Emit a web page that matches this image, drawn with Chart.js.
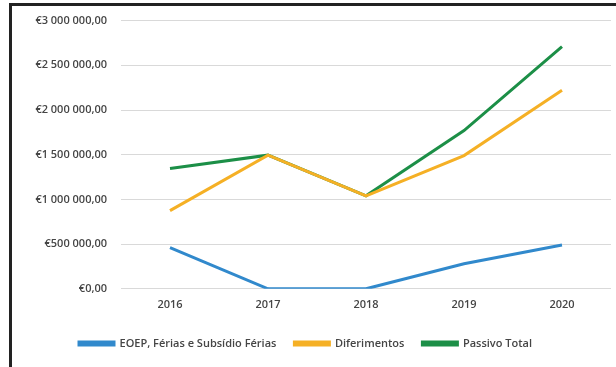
<!DOCTYPE html>
<html>
<head>
<meta charset="utf-8">
<script src="https://cdn.jsdelivr.net/npm/chart.js@4/dist/chart.umd.min.js"></script>
<style>
  html, body { margin: 0; padding: 0; background: #ffffff; }
  body { width: 616px; height: 367px; position: relative; overflow: hidden; }
  #frame {
    position: absolute; left: 9px; top: 3px; width: 620px; height: 380px;
    border-top: 3px solid #222222; border-left: 3px solid #222222;
    box-sizing: border-box; pointer-events: none;
  }
  #wrap { position: absolute; left: 0; top: 0; width: 616px; height: 367px; }
</style>
</head>
<body>
<div id="wrap"><canvas id="chart" width="616" height="367"></canvas></div>
<div id="frame"></div>
<script>
// Liabilities by year (EUR)
const years = ['2016', '2017', '2018', '2019', '2020'];
const eoepFerias = [460000, 0, 0, 280000, 490000];
const diferimentos = [875000, 1495000, 1040000, 1490000, 2220000];
const passivoTotal = [1345000, 1495000, 1040000, 1770000, 2710000];
const yTicks = [0, 500000, 1000000, 1500000, 2000000, 2500000, 3000000];

const seriesNames = ['EOEP, Férias e Subsídio Férias', 'Diferimentos', 'Passivo Total'];
const seriesColors = ['#3189cc', '#f5b025', '#1c8f47'];

function euro(v) {
  const int = Math.round(v).toString().replace(/\B(?=(\d{3})+(?!\d))/g, ' ');
  return '€' + int + ',00';
}

const fontFamily = '"Open Sans", "Liberation Sans", sans-serif';
const textColor = '#454545';

const datasets = [eoepFerias, diferimentos, passivoTotal].map((data, i) => ({
  label: seriesNames[i],
  data: data,
  borderColor: seriesColors[i],
  backgroundColor: seriesColors[i],
  borderWidth: 3,
  pointRadius: 0,
  tension: 0,
  fill: false
}));

new Chart(document.getElementById('chart'), {
  type: 'line',
  data: { labels: years, datasets: datasets },
  options: {
    responsive: false,
    animation: false,
    layout: { padding: { left: 0, right: 5, top: 20, bottom: 8 } },
    plugins: {
      tooltip: { enabled: false },
      legend: {
        position: 'bottom',
        labels: {
          boxWidth: 35,
          boxHeight: 3,
          padding: 18,
          color: textColor,
          font: { family: fontFamily, size: 11, weight: '600' }
        }
      }
    },
    scales: {
      x: {
        offset: true,
        grid: { display: false, drawTicks: false },
        border: { display: false },
        ticks: {
          color: textColor,
          padding: 9,
          font: { family: fontFamily, size: 11, weight: '600' }
        }
      },
      y: {
        min: 0,
        max: 3000000,
        afterFit(scale) { scale.width = 121; },
        afterBuildTicks(scale) { scale.ticks = yTicks.map(v => ({ value: v })); },
        grid: { color: '#d9d9d9', lineWidth: 1, drawTicks: false },
        border: { display: false },
        ticks: {
          color: textColor,
          padding: 14,
          font: { family: fontFamily, size: 11, weight: '600' },
          callback: (v) => euro(v)
        }
      }
    }
  }
});
</script>
</body>
</html>
